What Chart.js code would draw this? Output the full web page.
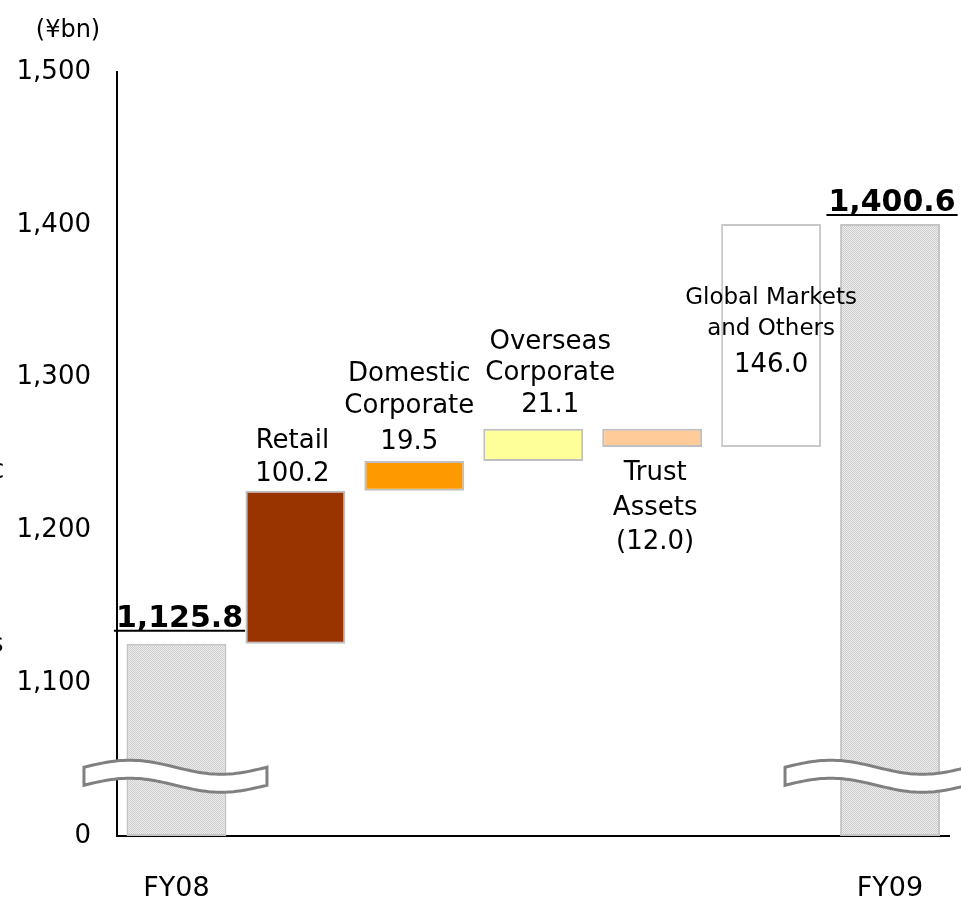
<!DOCTYPE html>
<html lang="en">
<head>
<meta charset="UTF-8">
<title>Net Business Profits by Segment</title>
<script src="https://cdn.jsdelivr.net/npm/chart.js"></script>
<style>
  html, body { margin: 0; padding: 0; background: #fff; }
  #wrap { width: 961px; height: 903px; overflow: hidden; }
  canvas { display: block; }
</style>
</head>
<body>
<div id="wrap"><canvas id="walk" width="961" height="903"></canvas></div>
<script>
// values in ¥bn
const periods = ['FY08', 'FY09'];
const openingTotal = 1125.8;
const closingTotal = 1400.6;
const segmentLines = [['Retail'], ['Domestic', 'Corporate'], ['Overseas', 'Corporate'], ['Trust', 'Assets'], ['Global Markets', 'and Others']];
const segmentChanges = [100.2, 19.5, 21.1, -12.0, 146.0];
const segmentColors = ['#993300', '#ff9900', '#ffff99', '#ffcc99', '#ffffff'];
const yTickValues = [1000, 1100, 1200, 1300, 1400, 1500];
const axisFloor = 1000; // axis is broken below 1,100; the floor reads as 0

// where each segment's text sits, relative to its bar (px)
const labelLayout = [
  { dx: -3, from: 'top', lines: [-43, -10] },
  { dx: -5, from: 'top', lines: [-80, -48, -12] },
  { dx: 17, from: 'top', lines: [-80, -49, -17] },
  { dx: 3, from: 'bottom', lines: [33, 68, 102] },
  { dx: 0, from: 'top', lines: [80, 111, 148], nameSize: 23 }
];

Chart.defaults.font.family = "'DejaVu Sans', sans-serif";
Chart.defaults.color = '#000';

// floating bars: totals rise from the floor, segments step from the running level
let level = openingTotal;
const floating = [[axisFloor, openingTotal]];
segmentChanges.forEach(c => {
  floating.push([level, level + c]);
  level += c;
});
floating.push([axisFloor, closingTotal]);

const fmt = v => v < 0 ? '(' + Math.abs(v).toFixed(1) + ')' : v.toFixed(1);
const fmtTotal = v => v.toLocaleString('en-US', { minimumFractionDigits: 1, maximumFractionDigits: 1 });

// fine dotted grey for the total bars
const pc = document.createElement('canvas');
pc.width = pc.height = 2;
const pctx = pc.getContext('2d');
pctx.fillStyle = '#ededed';
pctx.fillRect(0, 0, 2, 2);
pctx.fillStyle = '#cdcdcd';
pctx.fillRect(0, 0, 1, 1);
pctx.fillRect(1, 1, 1, 1);
const dotted = pctx.createPattern(pc, 'repeat');

function underlinedText(ctx, text, x, y) {
  ctx.fillText(text, x, y);
  const w = ctx.measureText(text).width;
  ctx.beginPath();
  ctx.moveTo(x - w / 2 - 2, y + 4);
  ctx.lineTo(x + w / 2 + 2, y + 4);
  ctx.lineWidth = 2;
  ctx.strokeStyle = '#000';
  ctx.stroke();
}

function breakRibbon(ctx, x0, yTop) {
  const w = 183, amp = 7, h = 18, n = 60;
  ctx.beginPath();
  for (let i = 0; i <= n; i++) {
    const t = i / n;
    ctx.lineTo(x0 + t * w, yTop - amp * Math.sin(2 * Math.PI * t));
  }
  for (let i = n; i >= 0; i--) {
    const t = i / n;
    ctx.lineTo(x0 + t * w, yTop + h - amp * Math.sin(2 * Math.PI * t));
  }
  ctx.closePath();
  ctx.fillStyle = '#fff';
  ctx.fill();
  ctx.lineWidth = 3;
  ctx.strokeStyle = '#808080';
  ctx.stroke();
}

const walkLabels = {
  id: 'walkLabels',
  afterDatasetsDraw(chart) {
    const ctx = chart.ctx;
    const bars = chart.getDatasetMeta(0).data;
    ctx.save();
    ctx.fillStyle = '#000';
    ctx.textAlign = 'center';
    ctx.textBaseline = 'alphabetic';

    // totals
    ctx.font = "bold 30px 'DejaVu Sans'";
    const first = bars[0], last = bars[bars.length - 1];
    underlinedText(ctx, fmtTotal(openingTotal), first.x + 3, Math.min(first.y, first.base) - 17);
    underlinedText(ctx, fmtTotal(closingTotal), last.x + 2, Math.min(last.y, last.base) - 13);

    // segment names and changes
    segmentLines.forEach((lines, i) => {
      const bar = bars[i + 1];
      const lay = labelLayout[i];
      const anchor = lay.from === 'top' ? Math.min(bar.y, bar.base) : Math.max(bar.y, bar.base);
      const texts = lines.concat([fmt(segmentChanges[i])]);
      texts.forEach((t, j) => {
        const isName = j < lines.length;
        ctx.font = (isName && lay.nameSize ? lay.nameSize : 26) + "px 'DejaVu Sans'";
        ctx.fillText(t, bar.x + lay.dx, anchor + lay.lines[j]);
      });
    });
    ctx.restore();
  },
  afterDraw(chart) {
    const ctx = chart.ctx;
    const bars = chart.getDatasetMeta(0).data;
    const area = chart.chartArea;
    const yTop = chart.scales.y.getPixelForValue(1045);
    ctx.save();
    breakRibbon(ctx, bars[0].x - 92.5, yTop);
    breakRibbon(ctx, bars[bars.length - 1].x - 105, yTop);

    ctx.fillStyle = '#000';
    ctx.textAlign = 'center';
    ctx.font = "24px 'DejaVu Sans'";
    ctx.fillText('(¥bn)', area.left - 49, area.top - 35);

    ctx.textAlign = 'left';
    ctx.font = "26px 'DejaVu Sans'";
    ctx.fillText('c', -10, 478);
    ctx.fillText('s', -10, 652);
    ctx.restore();
  }
};

new Chart(document.getElementById('walk'), {
  type: 'bar',
  data: {
    labels: [periods[0], ...segmentChanges.map(() => ''), periods[1]],
    datasets: [{
      data: floating,
      backgroundColor: [dotted, ...segmentColors, dotted],
      borderColor: ['#c4c4c4', '#bfbfbf', '#bfbfbf', '#bfbfbf', '#bfbfbf', '#c8c8c8', '#c4c4c4'],
      borderWidth: 2,
      borderSkipped: false,
      barPercentage: 0.84,
      categoryPercentage: 1
    }]
  },
  options: {
    responsive: false,
    animation: false,
    layout: { padding: { top: 72, right: 11, left: 0, bottom: 0 } },
    plugins: { legend: { display: false }, tooltip: { enabled: false } },
    scales: {
      x: {
        grid: { display: false, drawTicks: false },
        border: { display: true, color: '#000', width: 2 },
        ticks: { autoSkip: false, maxRotation: 0, padding: 37, font: { size: 27 }, color: '#000' },
        afterFit: s => { s.height = 67; }
      },
      y: {
        min: axisFloor,
        max: 1500,
        afterBuildTicks: s => { s.ticks = yTickValues.map(v => ({ value: v })); },
        grid: { display: false, drawTicks: false },
        border: { display: true, color: '#000', width: 2 },
        ticks: {
          padding: 26,
          font: { size: 26 },
          color: '#000',
          callback: v => v === axisFloor ? '0' : v.toLocaleString('en-US')
        },
        afterFit: s => { s.width = 117; }
      }
    }
  },
  plugins: [walkLabels]
});
</script>
</body>
</html>
